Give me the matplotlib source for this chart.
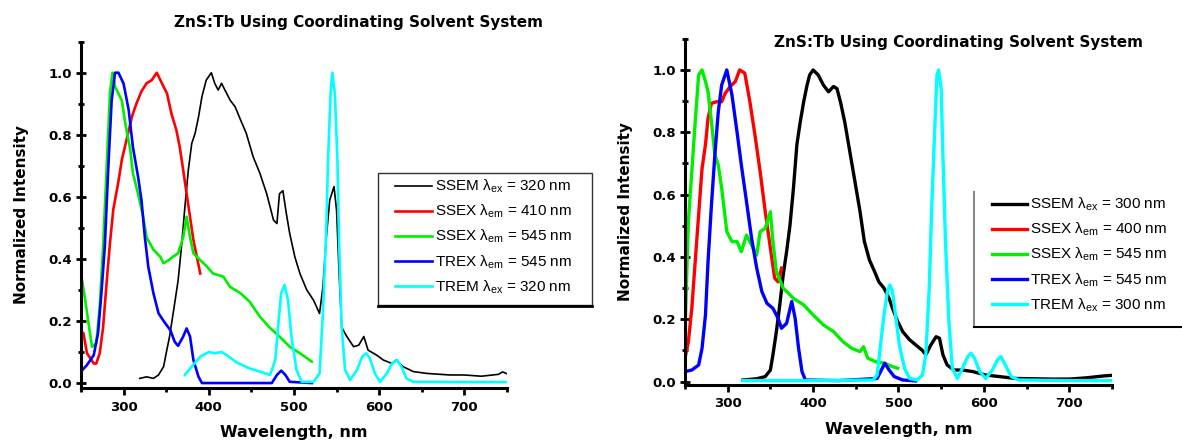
import numpy as np
import matplotlib
matplotlib.use("Agg")
import matplotlib.pyplot as plt
from matplotlib.lines import Line2D
from matplotlib.patches import Rectangle
from matplotlib.ticker import MultipleLocator, FormatStrFormatter

plt.rcParams["mathtext.fontset"] = "custom"
plt.rcParams["mathtext.rm"] = "Liberation Sans"
plt.rcParams["mathtext.it"] = "Liberation Sans:italic"

# ---------------- left panel: 320 nm excitation ----------------
a_ssem_wl = [319, 327, 335, 341, 347, 350, 354, 360, 364, 368, 372, 376, 380, 384, 388, 392, 397, 403,
             407, 411, 415, 419, 425, 431, 437, 444, 452, 460, 468, 476, 480, 483, 487, 491, 495, 501,
             507, 515, 523, 530, 534, 538, 542, 547, 550, 553, 556, 562, 570, 576, 582, 587, 597, 605,
             615, 620, 628, 640, 656, 683, 700, 720, 740, 745, 750]
a_ssem = [0.015, 0.02, 0.015, 0.026, 0.053, 0.096, 0.15, 0.257, 0.33, 0.44, 0.568, 0.686, 0.772, 0.805,
          0.858, 0.923, 0.976, 1.0, 0.966, 0.944, 0.966, 0.944, 0.912, 0.89, 0.85, 0.805, 0.73, 0.676,
          0.61, 0.525, 0.514, 0.61, 0.62, 0.547, 0.482, 0.407, 0.353, 0.30, 0.267, 0.224, 0.31, 0.47,
          0.59, 0.633, 0.557, 0.353, 0.18, 0.15, 0.117, 0.122, 0.15, 0.106, 0.09, 0.074, 0.063, 0.074,
          0.053, 0.037, 0.031, 0.026, 0.026, 0.022, 0.028, 0.036, 0.03]

a_ssex410_wl = [250, 253, 257, 261, 265, 268, 272, 276, 280, 284, 288, 294, 298, 304, 310, 315, 321,
                327, 333, 339, 345, 351, 356, 362, 366, 370, 374, 378, 382, 386, 390]
a_ssex410 = [0.165, 0.16, 0.096, 0.08, 0.063, 0.063, 0.096, 0.18, 0.32, 0.45, 0.56, 0.65, 0.72, 0.79,
             0.86, 0.90, 0.94, 0.966, 0.976, 1.0, 0.966, 0.933, 0.87, 0.815, 0.76, 0.686, 0.61, 0.536,
             0.46, 0.407, 0.353]

a_ssex545_wl = [250, 255, 259, 263, 268, 272, 276, 280, 284, 287, 290, 294, 298, 302, 308, 311, 317,
                323, 327, 335, 343, 347, 353, 358, 364, 370, 374, 378, 382, 390, 398, 405, 417, 425,
                437, 448, 460, 471, 483, 495, 507, 521]
a_ssex545 = [0.353, 0.267, 0.19, 0.117, 0.128, 0.246, 0.44, 0.686, 0.933, 1.0, 0.955, 0.933, 0.91,
             0.837, 0.75, 0.676, 0.61, 0.536, 0.47, 0.43, 0.407, 0.386, 0.396, 0.407, 0.418, 0.47,
             0.536, 0.47, 0.418, 0.396, 0.375, 0.353, 0.343, 0.31, 0.29, 0.262, 0.214, 0.18, 0.15,
             0.117, 0.096, 0.069]

a_trex_wl = [250, 257, 265, 270, 274, 278, 282, 286, 290, 294, 300, 306, 311, 317, 321, 325, 329, 335,
             341, 347, 355, 360, 364, 370, 374, 378, 382, 388, 392, 437, 474, 480, 485, 490, 495, 521]
a_trex = [0.037, 0.058, 0.09, 0.16, 0.29, 0.44, 0.69, 0.91, 1.0, 1.0, 0.965, 0.88, 0.76, 0.665, 0.59,
          0.47, 0.375, 0.29, 0.225, 0.20, 0.17, 0.133, 0.12, 0.15, 0.176, 0.15, 0.074, 0.02, 0.0, 0.0,
          0.0, 0.026, 0.04, 0.026, 0.004, 0.0]

a_trem_wl = [372, 380, 390, 400, 407, 415, 421, 433, 448, 460, 472, 478, 482, 485, 489, 493, 497, 503,
             509, 523, 530, 534, 538, 540, 543, 545, 548, 551, 553, 556, 560, 566, 574, 580, 585, 589,
             595, 601, 609, 615, 621, 626, 632, 640, 700, 750]
a_trem = [0.026, 0.053, 0.085, 0.10, 0.096, 0.10, 0.09, 0.066, 0.047, 0.037, 0.026, 0.074, 0.20, 0.29,
          0.316, 0.267, 0.15, 0.042, 0.004, 0.004, 0.031, 0.224, 0.50, 0.72, 0.933, 1.0, 0.933, 0.72,
          0.45, 0.18, 0.042, 0.01, 0.042, 0.085, 0.096, 0.08, 0.031, 0.004, 0.031, 0.063, 0.074, 0.053,
          0.015, 0.004, 0.003, 0.003]

# ---------------- right panel: 300 nm excitation ----------------
b_ssem_wl = [318, 334, 344, 350, 353, 357, 361, 365, 369, 373, 377, 381, 385, 389, 393, 396, 400, 406,
             412, 418, 424, 428, 432, 437, 443, 449, 455, 460, 466, 472, 477, 483, 489, 493, 499, 505,
             513, 520, 528, 532, 538, 544, 548, 552, 557, 565, 575, 587, 602, 618, 637, 657, 680, 700,
             720, 740, 750]
b_ssem = [0.005, 0.009, 0.016, 0.037, 0.086, 0.16, 0.246, 0.342, 0.417, 0.503, 0.62, 0.76, 0.834, 0.898,
          0.952, 0.984, 1.0, 0.984, 0.952, 0.93, 0.947, 0.94, 0.898, 0.834, 0.738, 0.642, 0.545, 0.45,
          0.39, 0.353, 0.32, 0.30, 0.267, 0.235, 0.193, 0.16, 0.134, 0.118, 0.10, 0.086, 0.118, 0.144,
          0.139, 0.086, 0.053, 0.037, 0.037, 0.032, 0.021, 0.016, 0.01, 0.009, 0.008, 0.008, 0.012,
          0.018, 0.02]

b_ssex400_wl = [250, 254, 258, 262, 266, 270, 274, 277, 281, 287, 293, 297, 303, 309, 314, 320, 326,
                332, 338, 344, 350, 355, 359, 363]
b_ssex400 = [0.075, 0.128, 0.235, 0.385, 0.535, 0.684, 0.76, 0.845, 0.893, 0.898, 0.898, 0.925, 0.947,
             0.963, 1.0, 0.99, 0.898, 0.79, 0.674, 0.545, 0.428, 0.332, 0.32, 0.364]

b_ssex545_wl = [250, 254, 258, 262, 266, 270, 274, 277, 281, 285, 289, 293, 299, 305, 311, 316, 322,
                328, 334, 338, 344, 350, 353, 357, 365, 377, 389, 400, 412, 424, 435, 445, 455, 459,
                464, 473, 483, 493, 499]
b_ssex545 = [0.16, 0.513, 0.674, 0.834, 0.984, 1.0, 0.963, 0.93, 0.834, 0.727, 0.695, 0.62, 0.481,
             0.449, 0.449, 0.417, 0.47, 0.438, 0.406, 0.481, 0.492, 0.545, 0.449, 0.353, 0.30, 0.267,
             0.246, 0.214, 0.182, 0.16, 0.128, 0.107, 0.096, 0.112, 0.075, 0.064, 0.059, 0.048, 0.043]

b_trex_wl = [250, 258, 266, 270, 274, 277, 281, 285, 289, 293, 299, 305, 311, 316, 322, 328, 334, 340,
             346, 353, 359, 363, 369, 375, 379, 383, 387, 391, 430, 475, 479, 484, 489, 495, 505, 520]
b_trex = [0.032, 0.037, 0.053, 0.107, 0.214, 0.385, 0.567, 0.727, 0.866, 0.952, 1.0, 0.92, 0.80, 0.695,
          0.578, 0.46, 0.364, 0.289, 0.251, 0.235, 0.203, 0.171, 0.187, 0.257, 0.203, 0.107, 0.032,
          0.005, 0.003, 0.01, 0.032, 0.059, 0.037, 0.016, 0.005, 0.002]

b_trem_wl = [318, 400, 470, 475, 479, 483, 487, 490, 493, 497, 501, 507, 513, 522, 528, 532, 536, 539,
             542, 545, 547, 550, 552, 555, 559, 563, 569, 575, 581, 585, 589, 595, 602, 610, 616, 620,
             626, 632, 641, 700, 750]
b_trem = [0.003, 0.003, 0.005, 0.021, 0.118, 0.214, 0.289, 0.31, 0.289, 0.203, 0.118, 0.043, 0.01,
          0.005, 0.021, 0.086, 0.30, 0.567, 0.78, 0.984, 1.0, 0.94, 0.727, 0.449, 0.193, 0.043, 0.01,
          0.043, 0.08, 0.091, 0.075, 0.032, 0.01, 0.037, 0.07, 0.08, 0.048, 0.016, 0.005, 0.003, 0.003]

labels_a = [r"SSEM λ$_{\mathrm{ex}}$ = 320 nm", r"SSEX λ$_{\mathrm{em}}$ = 410 nm",
            r"SSEX λ$_{\mathrm{em}}$ = 545 nm", r"TREX λ$_{\mathrm{em}}$ = 545 nm",
            r"TREM λ$_{\mathrm{ex}}$ = 320 nm"]
labels_b = [r"SSEM λ$_{\mathrm{ex}}$ = 300 nm", r"SSEX λ$_{\mathrm{em}}$ = 400 nm",
            r"SSEX λ$_{\mathrm{em}}$ = 545 nm", r"TREX λ$_{\mathrm{em}}$ = 545 nm",
            r"TREM λ$_{\mathrm{ex}}$ = 300 nm"]
colors = ["black", "#ff0000", "#00ee00", "#0000ff", "#00ffff"]
title = "ZnS:Tb Using Coordinating Solvent System"

W, H = 1182, 444
fig = plt.figure(figsize=(W / 100, H / 100), dpi=100)
ax1 = fig.add_axes([0.0685, 0.1261, 0.3604, 0.780])
ax2 = fig.add_axes([0.5795, 0.1329, 0.3613, 0.7797])


def px(x, y):
    # pixel position -> figure fraction
    return x / W, 1 - y / H


def style_axis(ax, ymin):
    ax.set_xlim(250, 750)
    ax.set_ylim(ymin, 1.1)
    for s in ["top", "right"]:
        ax.spines[s].set_visible(False)
    for s in ["left", "bottom"]:
        ax.spines[s].set_linewidth(2.2)
    ax.xaxis.set_major_locator(MultipleLocator(100))
    ax.xaxis.set_minor_locator(MultipleLocator(50))
    ax.yaxis.set_major_locator(MultipleLocator(0.2))
    ax.yaxis.set_minor_locator(MultipleLocator(0.1))
    ax.set_xticks([300, 400, 500, 600, 700])
    ax.tick_params(axis="x", which="major", direction="out", length=5, width=2, pad=4)
    ax.tick_params(axis="x", which="minor", direction="out", length=3, width=2)
    ax.tick_params(axis="y", which="major", direction="inout", length=7, width=2, pad=3)
    ax.tick_params(axis="y", which="minor", direction="inout", length=5, width=2)
    ax.yaxis.set_major_formatter(FormatStrFormatter("%.1f"))
    for lab in ax.get_xticklabels() + ax.get_yticklabels():
        lab.set_fontweight("bold")
        lab.set_fontsize(9.5)
    ax.set_xlabel("Wavelength, nm", fontsize=11.5, fontweight="bold", labelpad=8)
    ax.set_ylabel("Normalized Intensity", fontsize=11, fontweight="bold", labelpad=14)


# left panel
ax1.plot(a_ssem_wl, a_ssem, color=colors[0], lw=1.2, label=labels_a[0])
ax1.plot(a_ssex410_wl, a_ssex410, color=colors[1], lw=1.9, label=labels_a[1])
ax1.plot(a_ssex545_wl, a_ssex545, color=colors[2], lw=1.9, label=labels_a[2])
ax1.plot(a_trex_wl, a_trex, color=colors[3], lw=1.9, label=labels_a[3])
ax1.plot(a_trem_wl, a_trem, color=colors[4], lw=1.9, label=labels_a[4])
style_axis(ax1, -0.016)

ax1.legend(loc="upper left", bbox_to_anchor=px(395, 178), bbox_transform=fig.transFigure,
           prop={"family": "Liberation Sans", "size": 11}, handlelength=2.4, handletextpad=0.25,
           labelspacing=0.5, borderpad=0, borderaxespad=0, frameon=False)
# legend box with a heavier lower edge
x0, y0 = px(378, 305)
x1, y1 = px(592, 173)
fig.add_artist(Rectangle((x0, y0), x1 - x0, y1 - y0, transform=fig.transFigure,
                         facecolor="none", edgecolor="#333333", lw=1.0))
fig.add_artist(Line2D([x0, x1], [y0 - 0.002, y0 - 0.002], transform=fig.transFigure,
                      color="black", lw=2.0))

# right panel
ax2.plot(b_ssem_wl, b_ssem, color=colors[0], lw=2.4, label=labels_b[0])
ax2.plot(b_ssex400_wl, b_ssex400, color=colors[1], lw=2.4, label=labels_b[1])
ax2.plot(b_ssex545_wl, b_ssex545, color=colors[2], lw=2.4, label=labels_b[2])
ax2.plot(b_trex_wl, b_trex, color=colors[3], lw=2.4, label=labels_b[3])
ax2.plot(b_trem_wl, b_trem, color=colors[4], lw=2.4, label=labels_b[4])
style_axis(ax2, -0.011)

ax2.legend(loc="upper left", bbox_to_anchor=px(992, 196), bbox_transform=fig.transFigure,
           prop={"family": "Liberation Sans", "size": 11}, handlelength=2.3, handletextpad=0.2,
           labelspacing=0.5, borderpad=0, borderaxespad=0, frameon=False)
# open frame: grey left edge and black bottom edge
fig.add_artist(Line2D([974 / W, 974 / W], [1 - 192 / H, 1 - 327 / H],
                      transform=fig.transFigure, color="#888888", lw=1.5))
fig.add_artist(Line2D([974 / W, 1.0], [1 - 327 / H, 1 - 327 / H],
                      transform=fig.transFigure, color="black", lw=1.5))

fig.text(358 / W, 1 - 23 / H, title, ha="center", va="center", fontsize=11, fontweight="bold")
fig.text(958 / W, 1 - 42 / H, title, ha="center", va="center", fontsize=11, fontweight="bold")

fig.savefig("out.png", dpi=100)
